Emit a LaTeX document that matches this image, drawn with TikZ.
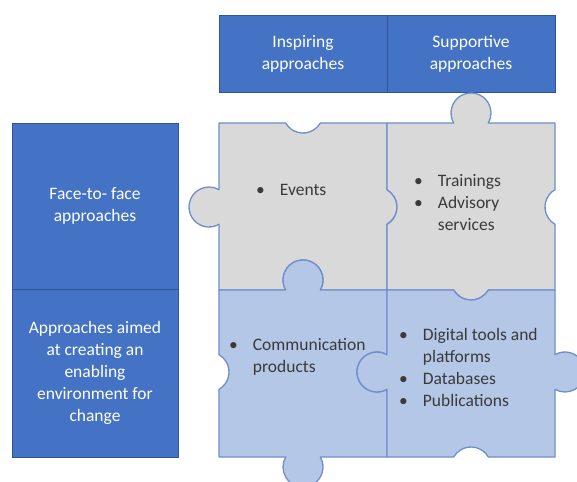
\documentclass[tikz,border=0pt]{standalone}
\usepackage{fontspec}
\setmainfont{Carlito}
\definecolor{hblue}{HTML}{4472C4}
\definecolor{hline}{HTML}{2F5597}
\definecolor{pgray}{HTML}{D9D9D9}
\definecolor{pblue}{HTML}{B4C7E7}
\definecolor{pline}{HTML}{6F8FCB}
\definecolor{ptext}{HTML}{3A3A3A}
\begin{document}
\begin{tikzpicture}[x=1pt, y=1pt,
    hbox/.style={draw=hline, line width=0.8pt, fill=hblue, text=white, align=center,
        font=\fontsize{17.5}{22}\selectfont, inner sep=0pt},
    piece/.style={draw=pline, line width=1.3pt, line join=round},
    items/.style={anchor=west, inner sep=0pt, text=ptext, font=\fontsize{17.5}{22}\selectfont}]

    \useasboundingbox (0,0) rectangle (577,481);

    % column and row headings
    \node[hbox, minimum width=168pt, minimum height=77pt] (insp) at (303,427.5) {Inspiring\\approaches};
    \node[hbox, minimum width=168pt, minimum height=77pt] (supp) at (471,427.5) {Supportive\\approaches};
    \node[hbox, minimum width=166pt, minimum height=166pt] (face) at (95,275) {Face-to- face\\approaches};
    \node[hbox, minimum width=166pt, minimum height=168pt] (enab) at (95,108) {Approaches aimed\\at creating an\\enabling\\environment for\\change};

    % puzzle pieces, knobs are circles of radius 20
    \draw[piece, fill=pgray] (219,358) -- (285.68,358) arc[start angle=210, end angle=330, radius=20pt]
        -- (387,358) -- (387,291.32) arc[start angle=60, end angle=-60, radius=20pt]
        -- (387,191) -- (320.32,191) arc[start angle=-30, end angle=210, radius=20pt]
        -- (219,191) -- (219,256.68) arc[start angle=-60, end angle=-300, radius=20pt] -- cycle;
    \draw[piece, fill=pgray] (387,358) -- (453.68,358) arc[start angle=210, end angle=-30, radius=20pt]
        -- (555,358) -- (555,291.32) arc[start angle=120, end angle=240, radius=20pt]
        -- (555,191) -- (488.32,191) arc[start angle=-30, end angle=-150, radius=20pt]
        -- (387,191) -- (387,256.68) arc[start angle=-60, end angle=60, radius=20pt] -- cycle;
    \draw[piece, fill=pblue] (219,191) -- (285.68,191) arc[start angle=210, end angle=-30, radius=20pt]
        -- (387,191) -- (387,126.32) arc[start angle=60, end angle=300, radius=20pt]
        -- (387,24) -- (320.32,24) arc[start angle=30, end angle=-210, radius=20pt]
        -- (219,24) -- (219,91.68) arc[start angle=-60, end angle=60, radius=20pt] -- cycle;
    \draw[piece, fill=pblue] (387,191) -- (453.68,191) arc[start angle=210, end angle=330, radius=20pt]
        -- (555,191) -- (555,126.32) arc[start angle=120, end angle=-120, radius=20pt]
        -- (555,24) -- (488.32,24) arc[start angle=30, end angle=150, radius=20pt]
        -- (387,24) -- (387,91.68) arc[start angle=-60, end angle=-300, radius=20pt] -- cycle;

    % bullet lists
    \node[items] (events) at (256,290) {\begin{tabular}{@{}l@{\hspace{15pt}}l@{}}
        \textbullet & Events \end{tabular}};
    \node[items] (train) at (414,277) {\begin{tabular}{@{}l@{\hspace{15pt}}l@{}}
        \textbullet & Trainings\\ \textbullet & Advisory\\ & services \end{tabular}};
    \node[items] (comm) at (229,123.5) {\begin{tabular}{@{}l@{\hspace{15pt}}l@{}}
        \textbullet & Communication\\ & products \end{tabular}};
    \node[items] (digi) at (399,112) {\begin{tabular}{@{}l@{\hspace{15pt}}l@{}}
        \textbullet & Digital tools and\\ & platforms\\ \textbullet & Databases\\ \textbullet & Publications \end{tabular}};
\end{tikzpicture}
\end{document}
